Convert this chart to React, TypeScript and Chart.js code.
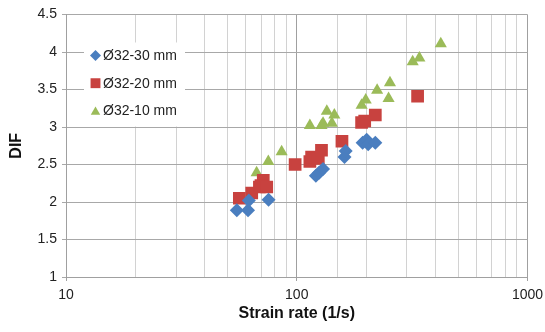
import { useEffect, useRef } from 'react';
import { Chart, registerables } from 'chart.js';

Chart.register(...registerables);

const seriesLabels = ['Ø32-30 mm', 'Ø32-20 mm', 'Ø32-10 mm'];
const seriesColors = ['#4a7ebf', '#c8423f', '#9bbb59'];
const seriesStyles = ['rectRot', 'rect', 'triangle'];

const blueX = [55, 61.5, 62, 75.5, 121, 125, 130, 161, 163, 193, 201, 204, 219];
const blueY = [1.89, 1.89, 2.02, 2.03, 2.35, 2.39, 2.44, 2.6, 2.68, 2.79, 2.83, 2.77, 2.79];

const redX = [56.4, 63.8, 68.9, 71.6, 70, 74.1, 98.4, 114, 116, 124, 128, 157, 191, 197, 219, 334];
const redY = [2.05, 2.12, 2.2, 2.29, 2.22, 2.2, 2.5, 2.54, 2.6, 2.58, 2.69, 2.81, 3.06, 3.08, 3.16, 3.41];

const greenX = [67, 75.3, 86, 114, 128, 130, 135, 142, 145.5, 191, 199, 223, 250, 253.5, 318, 340, 421];
const greenY = [2.39, 2.54, 2.67, 3.02, 3.02, 3.05, 3.21, 3.05, 3.16, 3.29, 3.36, 3.49, 3.38, 3.59, 3.87, 3.92, 4.11];

const xTickLabels = [10, 100, 1000];
const yMin = 1;
const yMax = 4.5;
const yStep = 0.5;

const FONT = "'Liberation Sans', Arial, Helvetica, sans-serif";

function toPoints(xs: number[], ys: number[]) {
  return xs.map((x, i) => ({ x, y: ys[i] }));
}

function isDecade(v: number) {
  const l = Math.log10(v);
  return Math.abs(l - Math.round(l)) < 1e-9;
}

function drawMarker(ctx: CanvasRenderingContext2D, style: string, x: number, y: number, r: number) {
  ctx.beginPath();
  if (style === 'rectRot') {
    ctx.moveTo(x, y - r);
    ctx.lineTo(x + r, y);
    ctx.lineTo(x, y + r);
    ctx.lineTo(x - r, y);
  } else if (style === 'rect') {
    const h = r * Math.SQRT1_2;
    ctx.rect(x - h, y - h, 2 * h, 2 * h);
  } else {
    for (let k = 0; k < 3; k++) {
      const a = (k * 2 * Math.PI) / 3;
      const px = x + Math.sin(a) * r;
      const py = y - Math.cos(a) * r + r * 0.2;
      if (k === 0) ctx.moveTo(px, py);
      else ctx.lineTo(px, py);
    }
  }
  ctx.closePath();
  ctx.fill();
}

const insideLegend = {
  id: 'insideLegend',
  beforeDatasetsDraw(chart: any) {
    const { ctx, chartArea } = chart;
    const left = chartArea.left + 18;
    const top = chartArea.top + 28;
    ctx.save();
    ctx.fillStyle = '#ffffff';
    ctx.fillRect(left, top, 101, 84);
    ctx.font = `14px ${FONT}`;
    ctx.textBaseline = 'middle';
    ctx.textAlign = 'left';
    chart.data.datasets.forEach((ds: any, i: number) => {
      const cy = top + 13 + i * 27.7;
      const cx = left + 11.5;
      ctx.fillStyle = ds.backgroundColor;
      drawMarker(ctx, ds.pointStyle, cx, cy, ds.pointStyle === 'rect' ? 7 : 5.5);
      ctx.fillStyle = '#222222';
      ctx.fillText(ds.label, left + 19, cy + 0.5);
    });
    ctx.restore();
  },
};

export default function App() {
  const canvasRef = useRef<HTMLCanvasElement | null>(null);

  useEffect(() => {
    if (!canvasRef.current) return;
    const xsList = [blueX, redX, greenX];
    const ysList = [blueY, redY, greenY];
    const radii = [7, 9, 7];
    const chart = new Chart(canvasRef.current, {
      type: 'scatter',
      data: {
        datasets: seriesLabels.map((label, i) => ({
          label,
          data: toPoints(xsList[i], ysList[i]),
          backgroundColor: seriesColors[i],
          borderColor: seriesColors[i],
          borderWidth: 0,
          pointStyle: seriesStyles[i] as any,
          pointRadius: radii[i],
          pointHoverRadius: radii[i],
        })),
      },
      options: {
        animation: false,
        responsive: false,
        layout: { padding: { left: 0, top: 14.5, right: 17.5, bottom: 0 } },
        plugins: {
          legend: { display: false },
          tooltip: { enabled: false },
        },
        scales: {
          x: {
            type: 'logarithmic',
            position: 'bottom',
            min: 10,
            max: 1000,
            afterFit: (s: any) => {
              s.height = 55;
              s.paddingRight = 0;
              s.paddingLeft = 0;
            },
            ticks: {
              autoSkip: false,
              maxRotation: 0,
              padding: 6,
              color: '#222222',
              font: { family: FONT, size: 14 },
              callback: (v: any) => (xTickLabels.includes(Number(v)) ? String(v) : ''),
            },
            grid: {
              color: (c: any) => (c.tick && isDecade(c.tick.value) ? '#a0a0a0' : '#d2d2d2'),
              tickColor: (c: any) => (c.tick && isDecade(c.tick.value) ? '#a0a0a0' : 'rgba(0,0,0,0)'),
              tickLength: 4,
            },
            border: { color: '#a0a0a0' },
            title: {
              display: true,
              text: 'Strain rate (1/s)',
              color: '#111111',
              font: { family: FONT, size: 16, weight: 'bold' },
              padding: { top: 0, bottom: 9 },
            },
          },
          y: {
            type: 'linear',
            min: yMin,
            max: yMax,
            afterFit: (s: any) => {
              s.width = 66;
              s.paddingTop = 0;
              s.paddingBottom = 0;
            },
            ticks: {
              stepSize: yStep,
              padding: 5,
              color: '#222222',
              font: { family: FONT, size: 14 },
              callback: (v: any) => String(v),
            },
            grid: {
              color: '#a8a8a8',
              tickColor: '#a8a8a8',
              tickLength: 4,
            },
            border: { color: '#a0a0a0' },
            title: {
              display: true,
              text: 'DIF',
              color: '#111111',
              font: { family: FONT, size: 16, weight: 'bold' },
              padding: { top: 7, bottom: 0 },
            },
          },
        },
      },
      plugins: [insideLegend],
    });
    return () => chart.destroy();
  }, []);

  return (
    <div style={{ position: 'absolute', left: 0, top: 0, width: 545, height: 332, background: '#fff' }}>
      <canvas ref={canvasRef} width={545} height={332} style={{ display: 'block' }} />
    </div>
  );
}
